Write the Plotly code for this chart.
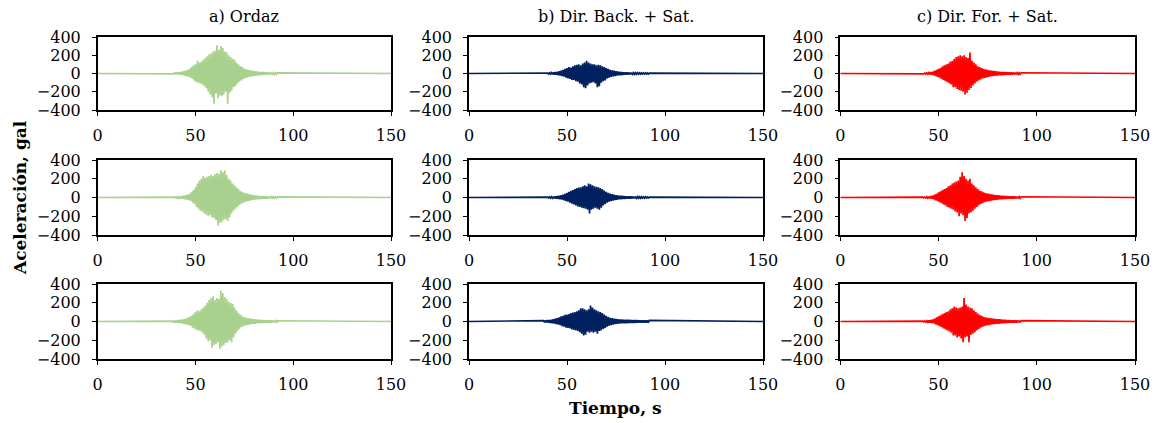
import numpy as np
import plotly.graph_objects as go
from plotly.subplots import make_subplots

# Accelerograms sampled every 0.5 s over the strong-motion window (38 s - 92 s);
# outside the window the records sit on the zero baseline.
WINDOW_START = 38.0
STEP = 0.5
RECORD_END = 150.0

column_titles = ["a) Ordaz", "b) Dir. Back. + Sat.", "c) Dir. For. + Sat."]
x_ticks = [0, 50, 100, 150]
y_ticks = [-400, -200, 0, 200, 400]

ordaz_1 = [3, -4, 5, -5, 8, -9, 12, -10, 15, -14,
           20, -18, 25, -22, 30, -32, 40, -35, 50, -45,
           70, -60, 90, -80, 100, -95, 140, -100, 120, -110,
           130, -120, 150, -140, 170, -160, 190, -200, 210, -230,
           220, -260, 240, -330, 250, -220, 310, -270, 260, -240,
           300, -250, 280, -230, 240, -200, 230, -330, 200, -210,
           180, -190, 160, -150, 150, -140, 120, -110, 100, -90,
           80, -75, 70, -60, 55, -50, 45, -42, 40, -36,
           35, -32, 30, -28, 28, -25, 24, -22, 20, -20,
           18, -17, 16, -15, 15, -14, 13, -12, 12, -11,
           11, -10, 10, -9, 9, -8, 8, -8, 7]
ordaz_2 = [2, -3, 4, -4, 6, -6, 8, -8, 10, -12,
           15, -14, 18, -20, 25, -22, 30, -28, 40, -35,
           60, -55, 80, -70, 110, -100, 150, -120, 180, -140,
           200, -150, 230, -170, 210, -180, 220, -200, 230, -190,
           240, -210, 230, -220, 250, -240, 260, -300, 250, -270,
           290, -260, 270, -240, 290, -230, 240, -250, 200, -210,
           180, -170, 150, -140, 130, -120, 110, -100, 90, -80,
           70, -65, 60, -55, 50, -48, 45, -40, 38, -35,
           32, -30, 28, -26, 25, -22, 22, -20, 18, -18,
           17, -15, 15, -14, 13, -12, 12, -11, 10, -10,
           10, -9, 9, -8, 8, -7, 7, -7, 6]
ordaz_3 = [5, -6, 8, -8, 10, -12, 14, -15, 18, -16,
           20, -22, 25, -28, 30, -32, 40, -38, 50, -45,
           60, -65, 80, -75, 100, -90, 120, -95, 110, -100,
           130, -120, 150, -140, 170, -180, 200, -210, 230, -200,
           250, -280, 270, -250, 230, -240, 250, -220, 240, -290,
           330, -270, 300, -250, 260, -230, 240, -220, 210, -200,
           200, -220, 190, -170, 150, -130, 120, -100, 90, -80,
           70, -60, 55, -50, 45, -42, 40, -38, 35, -32,
           30, -28, 28, -26, 25, -24, 22, -20, 20, -18,
           18, -16, 16, -15, 15, -14, 14, -13, 12, -12,
           12, -11, 11, -10, 10, -9, 9, -9, 8]

back_1 = [2, -2, 3, -3, 5, -5, 8, -6, 10, -10,
          12, -12, 15, -14, 18, -20, 25, -22, 30, -28,
          40, -35, 50, -45, 60, -55, 70, -60, 65, -70,
          80, -70, 90, -85, 95, -90, 100, -110, 90, -120,
          110, -150, 120, -160, 140, -130, 120, -110, 110, -100,
          100, -95, 100, -110, 90, -150, 95, -140, 90, -100,
          80, -85, 70, -75, 60, -55, 50, -45, 40, -38,
          35, -30, 30, -28, 25, -22, 22, -20, 18, -18,
          16, -15, 14, -14, 13, -12, 12, -11, 10, -10,
          10, -9, 9, -9, 8, -8, 8, -7, 7, -7,
          7, -6, 6, -6, 6, -5, 5, -5, 5]
back_2 = [2, -2, 3, -3, 4, -4, 6, -6, 8, -8,
          10, -10, 12, -12, 15, -15, 20, -18, 25, -22,
          30, -30, 40, -38, 50, -45, 60, -55, 70, -65,
          80, -75, 90, -85, 100, -95, 105, -100, 110, -110,
          120, -115, 130, -120, 120, -130, 150, -170, 140, -130,
          130, -120, 120, -110, 115, -120, 110, -130, 100, -110,
          90, -85, 75, -70, 60, -55, 50, -45, 42, -38,
          35, -32, 30, -28, 25, -24, 22, -20, 20, -18,
          18, -16, 16, -15, 14, -13, 13, -12, 12, -11,
          11, -10, 10, -10, 9, -9, 9, -8, 8, -8,
          8, -7, 7, -7, 6, -6, 6, -6, 5]
back_3 = [10, -8, 12, -10, 14, -12, 16, -15, 20, -18,
          25, -22, 30, -28, 35, -32, 45, -40, 55, -50,
          60, -55, 70, -65, 75, -70, 80, -75, 90, -85,
          95, -90, 100, -95, 110, -100, 120, -115, 140, -130,
          140, -150, 130, -140, 120, -110, 130, -120, 170, -110,
          150, -120, 130, -110, 120, -130, 110, -100, 100, -95,
          90, -80, 75, -70, 60, -55, 50, -45, 40, -38,
          35, -32, 30, -28, 28, -25, 25, -22, 22, -20,
          22, -20, 20, -18, 20, -18, 18, -16, 18, -16,
          16, -15, 16, -15, 15, -14, 15, -14, 14, -13,
          14, -13, 13, -12, 12, -12, 12, -11, 11]

forward_1 = [1, -1, 2, -2, 2, -2, 3, -3, 4, -4,
             5, -5, 8, -7, 10, -10, 15, -14, 20, -20,
             30, -28, 40, -38, 50, -45, 60, -60, 80, -70,
             90, -85, 100, -95, 110, -110, 130, -120, 140, -150,
             160, -150, 180, -170, 190, -180, 200, -190, 190, -200,
             200, -230, 180, -210, 170, -180, 230, -160, 140, -130,
             120, -110, 100, -90, 80, -75, 70, -65, 60, -55,
             50, -48, 45, -42, 40, -38, 35, -32, 30, -28,
             28, -26, 25, -24, 22, -20, 20, -20, 18, -18,
             16, -15, 15, -14, 14, -13, 13, -12, 12, -12,
             11, -10, 10, -10, 9, -9, 8, -8, 8]
forward_2 = [1, -1, 2, -2, 2, -2, 3, -3, 4, -4,
             5, -5, 8, -8, 10, -10, 15, -14, 20, -20,
             30, -30, 40, -40, 55, -50, 65, -60, 80, -75,
             90, -85, 100, -100, 120, -110, 130, -120, 150, -130,
             160, -150, 170, -160, 180, -200, 220, -170, 270, -190,
             230, -250, 200, -220, 180, -170, 200, -160, 150, -140,
             130, -120, 110, -100, 90, -85, 75, -70, 65, -60,
             55, -50, 48, -45, 42, -40, 38, -35, 32, -30,
             30, -28, 26, -25, 24, -22, 22, -20, 20, -18,
             18, -17, 16, -15, 15, -14, 14, -13, 12, -12,
             12, -11, 11, -10, 10, -9, 9, -9, 8]
forward_3 = [1, -1, 2, -2, 2, -2, 3, -3, 4, -4,
             6, -6, 8, -8, 12, -12, 16, -15, 22, -20,
             30, -30, 45, -40, 55, -50, 65, -60, 80, -75,
             90, -85, 100, -95, 110, -105, 130, -120, 140, -150,
             160, -150, 150, -170, 140, -160, 150, -180, 160, -220,
             250, -170, 180, -160, 160, -220, 150, -140, 140, -130,
             120, -115, 100, -95, 85, -80, 70, -65, 60, -55,
             50, -48, 45, -42, 40, -38, 36, -34, 32, -30,
             30, -28, 28, -26, 25, -24, 24, -22, 22, -20,
             20, -18, 18, -17, 16, -15, 15, -14, 14, -13,
             13, -12, 12, -11, 11, -10, 10, -10, 9]

records = [
    [ordaz_1, back_1, forward_1],
    [ordaz_2, back_2, forward_2],
    [ordaz_3, back_3, forward_3],
]
colors = ["#a9d18e", "#002060", "#ff0000"]

FONT = "DejaVu Serif"
W, H = 1156, 423

# panel frames in pixels (left, right) and (top, bottom)
col_px = [(97.7, 391.0), (469.0, 763.0), (840.3, 1135.0)]
row_px = [(37.0, 110.0), (160.0, 235.0), (284.0, 359.0)]

fig = make_subplots(rows=3, cols=3)

for r in range(3):
    for c in range(3):
        vals = records[r][c]
        t = WINDOW_START + STEP * np.arange(len(vals))
        x = np.concatenate([[0.0], t, [RECORD_END]])
        y = np.concatenate([[0.0], vals, [0.0]])
        fig.add_trace(
            go.Scatter(x=x, y=y, mode="lines",
                       line=dict(color=colors[c], width=1.7),
                       showlegend=False, hoverinfo="skip"),
            row=r + 1, col=c + 1)

axis_common = dict(
    showline=True, mirror=True, linecolor="black", linewidth=1.5,
    ticks="outside", ticklen=4, tickwidth=1.3, tickcolor="black",
    showgrid=False, zeroline=False, automargin=False,
    tickfont=dict(family=FONT, size=16, color="black"),
)

for r in range(3):
    for c in range(3):
        idx = r * 3 + c + 1
        xname = "xaxis" if idx == 1 else f"xaxis{idx}"
        yname = "yaxis" if idx == 1 else f"yaxis{idx}"
        l, rr = col_px[c]
        top, bot = row_px[r]
        fig.layout[xname].update(
            domain=[l / W, rr / W], range=[0, 150],
            tickvals=x_ticks, ticklabelstandoff=6, **axis_common)
        fig.layout[yname].update(
            domain=[1 - bot / H, 1 - top / H], range=[-400, 400],
            tickvals=y_ticks, ticklabelstandoff=8, **axis_common)

annotations = []
for c, title in enumerate(column_titles):
    l, rr = col_px[c]
    annotations.append(dict(
        text=title, x=(l + rr) / 2 / W, y=1 - 17 / H,
        xref="paper", yref="paper", showarrow=False,
        xanchor="center", yanchor="middle",
        font=dict(family=FONT, size=16, color="black")))
annotations.append(dict(
    text="<b>Aceleración, gal</b>", x=20 / W, y=1 - 198 / H,
    xref="paper", yref="paper", showarrow=False, textangle=-90,
    xanchor="center", yanchor="middle",
    font=dict(family=FONT, size=17, color="black")))
annotations.append(dict(
    text="<b>Tiempo, s</b>", x=616 / W, y=1 - 408 / H,
    xref="paper", yref="paper", showarrow=False,
    xanchor="center", yanchor="middle",
    font=dict(family=FONT, size=17, color="black")))

fig.update_layout(
    width=W, height=H,
    margin=dict(l=0, r=0, t=0, b=0, autoexpand=False),
    paper_bgcolor="white", plot_bgcolor="white",
    annotations=annotations,
)

fig.write_html("out.html")
